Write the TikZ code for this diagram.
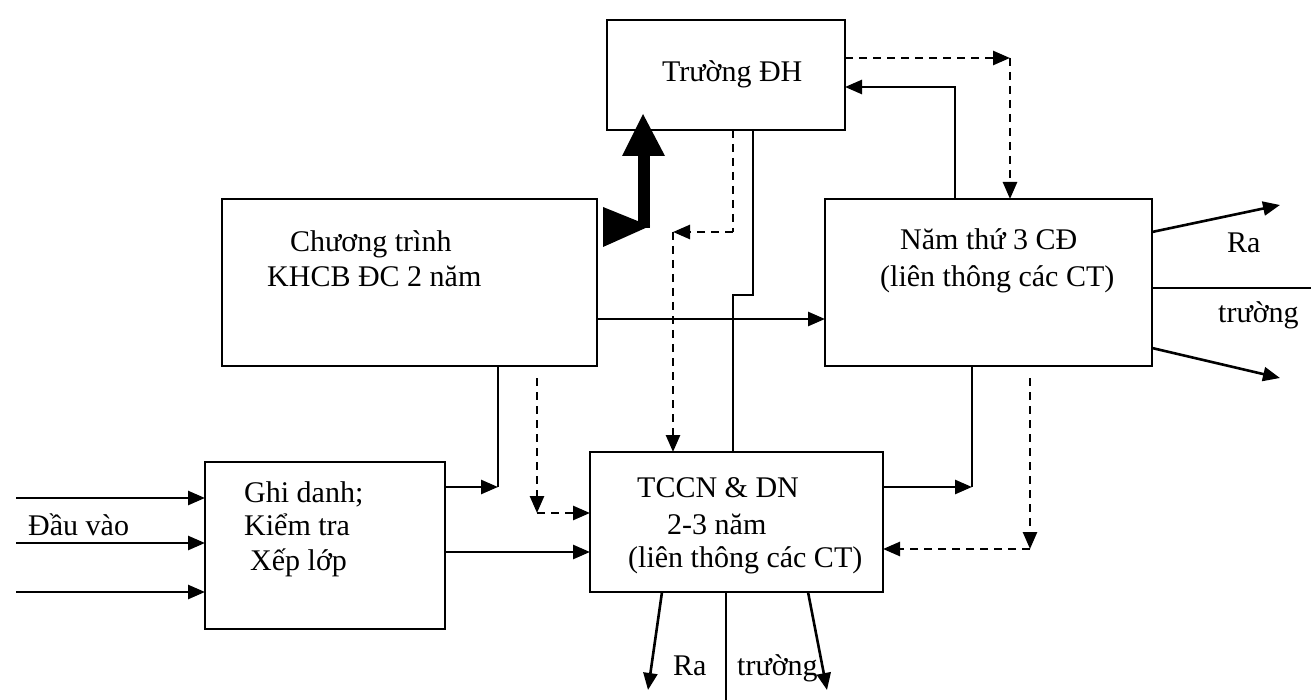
\documentclass[tikz,border=0pt]{standalone}
\usepackage{fontspec}
\setmainfont{Liberation Serif}
\usetikzlibrary{arrows.meta}
\begin{document}
\begin{tikzpicture}[x=1pt,y=-1pt,
  box/.style={draw,line width=2.6pt,rectangle,inner sep=0pt,outer sep=0pt},
  lbl/.style={anchor=base west,inner sep=0pt,font=\fontsize{30}{36}\selectfont},
  ln/.style={line width=2.6pt},
  tip/.style={-{Triangle[length=17pt,width=14pt]}},
  arr/.style={line width=2.6pt,tip},
  dsh/.style={line width=2.6pt,dash pattern=on 8pt off 6pt}]
\useasboundingbox (0,0) rectangle (1311,700);
\fill[white] (0,0) rectangle (1311,700);
% boxes
\node[box,minimum width=238pt,minimum height=110pt] (dh) at (726,75) {};
\node[box,minimum width=375pt,minimum height=167pt] (ct) at (409.5,282.5) {};
\node[box,minimum width=327pt,minimum height=167pt] (n3) at (988.5,282.5) {};
\node[box,minimum width=240pt,minimum height=167pt] (gd) at (325,545.5) {};
\node[box,minimum width=293pt,minimum height=140pt] (tc) at (736.5,522) {};
% texts
\node[lbl] (t1) at (662,82) {Trường ĐH};
\node[lbl] (t2) at (290,252) {Chương trình};
\node[lbl] (t3) at (267,287) {KHCB ĐC 2 năm};
\node[lbl] (t4) at (900,250) {Năm thứ 3 CĐ};
\node[lbl] (t5) at (880,287) {(liên thông các CT)};
\node[lbl] (t6) at (1227,253) {Ra};
\node[lbl] (t7) at (1218,323) {trường};
\node[lbl] (t8) at (244,502) {Ghi danh;};
\node[lbl] (t9) at (244,535) {Kiểm tra};
\node[lbl] (t10) at (250,570) {Xếp lớp};
\node[lbl] (t11) at (28,535) {Đầu vào};
\node[lbl] (t12) at (637,497) {TCCN \& DN};
\node[lbl] (t13) at (667,534) {2-3 năm};
\node[lbl] (t14) at (628,567) {(liên thông các CT)};
\node[lbl] (t15) at (673,675) {Ra};
\node[lbl] (t16) at (737,675) {trường};
% coordinates
\coordinate (i1) at (16,498);
\coordinate (i2) at (16,543);
\coordinate (i3) at (16,592);
\coordinate (cgc) at (498,487);
\coordinate (cda) at (537,513);
\coordinate (cdas) at (537,378);
\coordinate (cgt) at (445,552);
\coordinate (ch) at (600,319);
\coordinate (cj1) at (733,295);
\coordinate (cj2) at (753,295);
\coordinate (cd1) at (733,232);
\coordinate (cd2) at (673,232);
\coordinate (cq) at (1010,58);
\coordinate (cr) at (955,87);
\coordinate (cs) at (972,487);
\coordinate (cu) at (1030,549);
\coordinate (cus) at (1030,378);
\coordinate (o1) at (1280,205);
\coordinate (o2) at (1311,288);
\coordinate (o3) at (1280,378);
\coordinate (b1) at (648,690);
\coordinate (b2) at (726,700);
\coordinate (b3) at (827,690);
% inputs
\draw[arr] (i1) -- (gd.west |- i1);
\draw[arr] (i2) -- (gd.west |- i2);
\draw[arr] (i3) -- (gd.west |- i3);
% gd -> ct
\draw[arr] (gd.east |- cgc) -- (cgc);
\draw[ln] (cgc) -- (ct.south -| cgc);
% ct -> tc dashed
\draw[dsh,tip] (cdas) -- (cda);
\draw[dsh,tip] (cda) -- (tc.west |- cda);
% gd -> tc
\draw[arr] (gd.east |- cgt) -- (tc.west |- cgt);
% ct -> n3
\draw[arr] (ct.east |- ch) -- (n3.west |- ch);
% tc -- dh solid
\draw[ln] (tc.north -| cj1) -- (cj1) -- (cj2) -- (dh.south -| cj2);
% dh -> tc dashed
\draw[dsh] (dh.south -| cd1) -- (cd1);
\draw[dsh,tip] (cd1) -- (cd2);
\draw[dsh,tip] (cd2) -- (tc.north -| cd2);
% dh -> n3 dashed
\draw[dsh,tip] (dh.east |- cq) -- (cq);
\draw[dsh,tip] (cq) -- (n3.north -| cq);
% n3 -> dh
\draw[arr] (n3.north -| cr) -- (cr) -- (dh.east |- cr);
% tc -> n3
\draw[arr] (tc.east |- cs) -- (cs);
\draw[ln] (cs) -- (n3.south -| cs);
% n3 -> tc dashed
\draw[dsh,tip] (cus) -- (cu);
\draw[dsh,tip] (cu) -- (tc.east |- cu);
% n3 outputs
\draw[arr] (n3.east |- 0,232) -- (o1);
\draw[ln] (n3.east |- o2) -- (o2);
\draw[arr] (n3.east |- 0,348) -- (o3);
% tc outputs
\draw[arr] (tc.south -| 662,0) -- (b1);
\draw[ln] (tc.south -| b2) -- (b2);
\draw[arr] (tc.south -| 808,0) -- (b3);
% thick arrow ct -> dh
\fill (603,207) -- (603,247) -- (650,226) -- cycle;
\fill (638,228) rectangle (650,152);
\fill (622,156) -- (665,156) -- (643,114) -- cycle;
\end{tikzpicture}
\end{document}
